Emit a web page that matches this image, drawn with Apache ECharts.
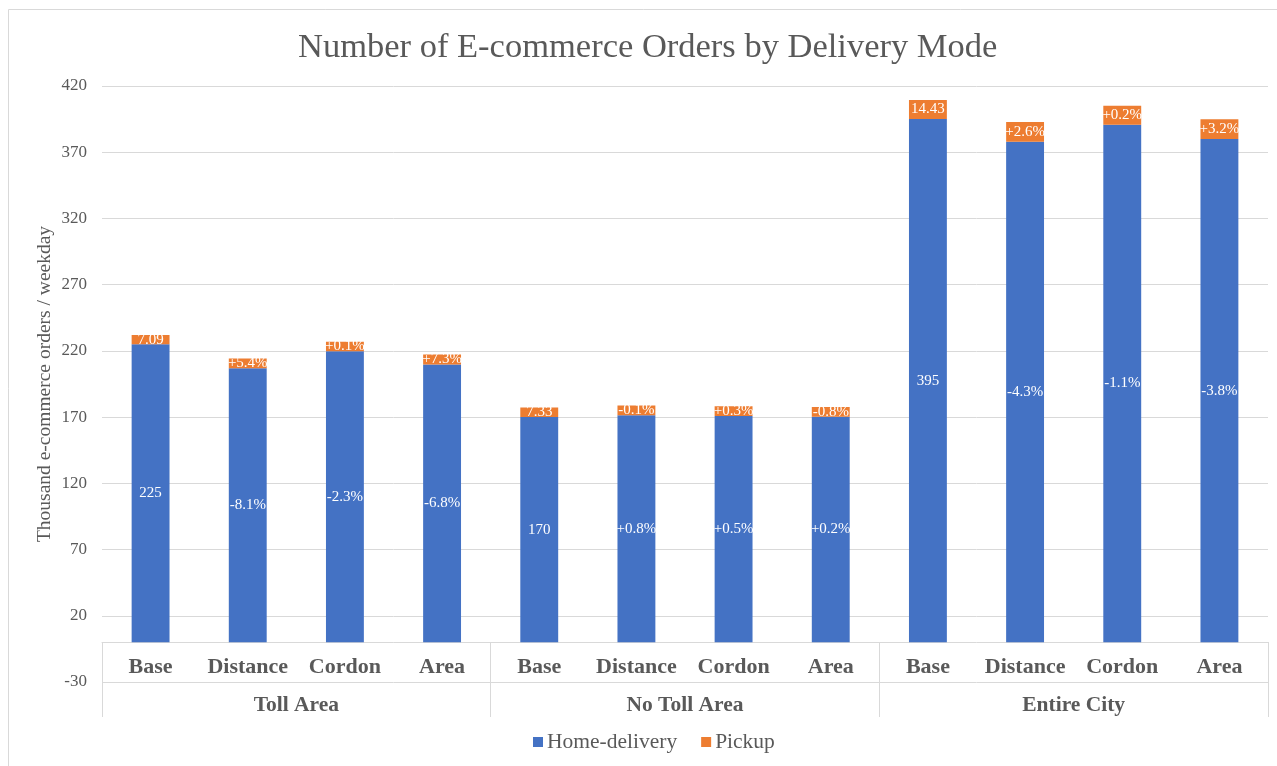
<!DOCTYPE html>
<html>
<head>
<meta charset="utf-8">
<script src="https://cdn.jsdelivr.net/npm/echarts@6/dist/echarts.min.js"></script>
<style>
  html, body { margin: 0; padding: 0; background: #fff; }
  #chart { width: 1277px; height: 766px; }
</style>
</head>
<body>
<div id="chart"></div>
<script>
  // categories
  var scenarios = ['Base', 'Distance', 'Cordon', 'Area', 'Base', 'Distance', 'Cordon', 'Area', 'Base', 'Distance', 'Cordon', 'Area']
  var groups = ['Toll Area', 'No Toll Area', 'Entire City']
  var yTicks = [-30, 20, 70, 120, 170, 220, 270, 320, 370, 420]

  // values (thousand orders / weekday)
  var homeDelivery = [225, 206.8, 219.8, 209.7, 170, 171.4, 170.9, 170.3, 395, 378.0, 390.7, 380.0]
  var pickup = [7.09, 7.47, 7.10, 7.61, 7.33, 7.32, 7.35, 7.27, 14.43, 14.81, 14.46, 14.89]

  // label texts as shown on the bars
  var homeLabels = ['225', '-8.1%', '-2.3%', '-6.8%', '170', '+0.8%', '+0.5%', '+0.2%', '395', '-4.3%', '-1.1%', '-3.8%']
  var pickupLabels = ['7.09', '+5.4%', '+0.1%', '+7.3%', '7.33', '-0.1%', '+0.3%', '-0.8%', '14.43', '+2.6%', '+0.2%', '+3.2%']

  var serif = '"Liberation Serif", "DejaVu Serif", serif'
  var grey = '#595959'
  var lineGrey = '#d9d9d9'

  var chart = echarts.init(document.getElementById('chart'))
  chart.setOption({
    animation: false,
    textStyle: { fontFamily: serif },
    title: {
      text: 'Number of E-commerce Orders by Delivery Mode',
      left: 293,
      top: 25,
      textStyle: { fontFamily: serif, fontSize: 34.5, fontWeight: 'normal', color: grey }
    },
    graphic: [
      {
        type: 'rect',
        shape: { x: 8.5, y: 9.5, width: 1300, height: 800 },
        style: { fill: 'none', stroke: lineGrey, lineWidth: 1 },
        silent: true
      }
    ],
    legend: {
      bottom: 8,
      left: 528,
      itemWidth: 10,
      itemHeight: 10,
      itemGap: 24,
      icon: 'rect',
      textStyle: { fontFamily: serif, fontSize: 21.5, color: grey, padding: [0, 0, 0, -1] },
      data: ['Home-delivery', 'Pickup']
    },
    grid: { left: 102, right: 9, top: 86, bottom: 84 },
    xAxis: [
      {
        // scenario row, sitting on the zero line
        type: 'category',
        data: scenarios,
        offset: -40,
        axisLine: { onZero: false, lineStyle: { color: lineGrey, width: 1 } },
        axisTick: { show: false },
        axisLabel: { interval: 0, margin: 14, fontFamily: serif, fontSize: 22, fontWeight: 'bold', color: grey }
      },
      {
        // group row, its ticks make the separators
        type: 'category',
        data: groups,
        position: 'bottom',
        offset: -40,
        axisLine: { show: false, onZero: false },
        axisTick: { show: true, interval: 0, length: 75, lineStyle: { color: lineGrey } },
        axisLabel: { interval: 0, margin: 52, fontFamily: serif, fontSize: 21.5, fontWeight: 'bold', color: grey }
      }
    ],
    yAxis: {
      type: 'value',
      min: -30,
      max: 420,
      interval: 50,
      name: 'Thousand e-commerce orders / weekday',
      nameLocation: 'middle',
      nameRotate: 90,
      nameGap: 47,
      nameMoveOverlap: false,
      nameTextStyle: { fontFamily: serif, fontSize: 19.5, color: grey },
      axisLine: { show: false },
      axisTick: { show: false },
      axisLabel: {
        margin: 15,
        fontFamily: serif,
        fontSize: 17,
        color: grey,
        formatter: function (v) { return yTicks.indexOf(v) >= 0 ? String(v) : '' }
      },
      splitLine: { lineStyle: { color: lineGrey, width: 1 } }
    },
    series: [
      {
        name: 'Home-delivery',
        type: 'bar',
        stack: 'orders',
        barWidth: '39%',
        itemStyle: { color: '#4472c4' },
        label: {
          show: true,
          position: 'inside',
          fontFamily: serif,
          fontSize: 15,
          color: '#fff',
          formatter: function (p) { return homeLabels[p.dataIndex] }
        },
        data: homeDelivery
      },
      {
        name: 'Pickup',
        type: 'bar',
        stack: 'orders',
        barWidth: '39%',
        itemStyle: { color: '#ed7d31' },
        label: {
          show: true,
          position: 'inside',
          fontFamily: serif,
          fontSize: 15,
          color: '#fff',
          formatter: function (p) { return pickupLabels[p.dataIndex] }
        },
        data: pickup
      }
    ]
  })
</script>
</body>
</html>
